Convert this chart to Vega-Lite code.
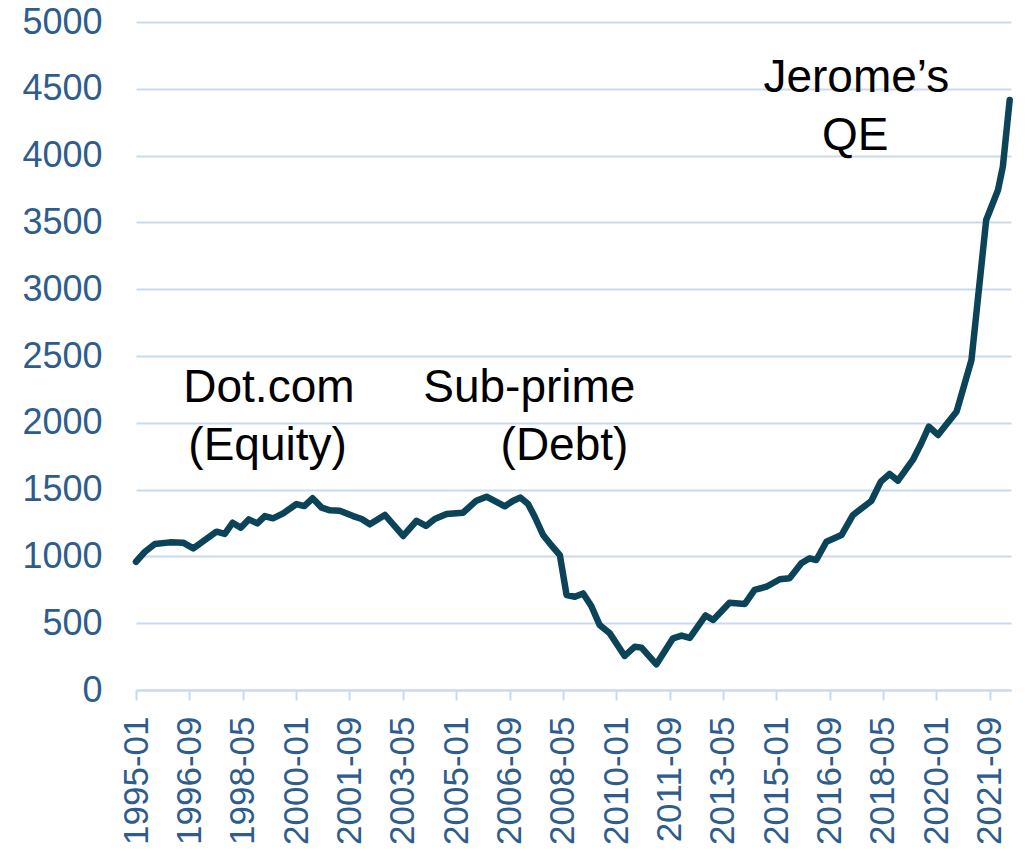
{
  "$schema": "https://vega.github.io/schema/vega-lite/v6.json",
  "width": 875,
  "height": 668,
  "autosize": {"type": "none"},
  "padding": {"left": 136, "top": 22, "right": 14, "bottom": 161},
  "background": "white",
  "config": {"view": {"stroke": null}, "font": "Liberation Sans"},
  "datasets": {
    "series": [
      {"date": "1995-01-01", "value": 960},
      {"date": "1995-04-13", "value": 1035},
      {"date": "1995-08-04", "value": 1093},
      {"date": "1996-01-22", "value": 1105},
      {"date": "1996-06-22", "value": 1103},
      {"date": "1996-10-16", "value": 1060},
      {"date": "1997-07-07", "value": 1185},
      {"date": "1997-10-10", "value": 1168},
      {"date": "1998-01-07", "value": 1252},
      {"date": "1998-04-10", "value": 1215},
      {"date": "1998-07-10", "value": 1277},
      {"date": "1998-10-16", "value": 1247},
      {"date": "1999-01-10", "value": 1302},
      {"date": "1999-04-13", "value": 1285},
      {"date": "1999-08-07", "value": 1322},
      {"date": "2000-01-07", "value": 1392},
      {"date": "2000-04-04", "value": 1377},
      {"date": "2000-07-07", "value": 1435},
      {"date": "2000-10-19", "value": 1365},
      {"date": "2001-01-22", "value": 1345},
      {"date": "2001-05-13", "value": 1342},
      {"date": "2001-10-13", "value": 1302},
      {"date": "2002-01-19", "value": 1280},
      {"date": "2002-04-22", "value": 1240},
      {"date": "2002-10-10", "value": 1310},
      {"date": "2003-05-07", "value": 1153},
      {"date": "2003-10-07", "value": 1267},
      {"date": "2004-01-22", "value": 1228},
      {"date": "2004-05-01", "value": 1280},
      {"date": "2004-09-13", "value": 1317},
      {"date": "2005-03-19", "value": 1327},
      {"date": "2005-08-19", "value": 1417},
      {"date": "2005-12-13", "value": 1447},
      {"date": "2006-07-10", "value": 1375},
      {"date": "2006-10-13", "value": 1417},
      {"date": "2007-01-04", "value": 1440},
      {"date": "2007-04-01", "value": 1392},
      {"date": "2007-06-16", "value": 1297},
      {"date": "2007-09-19", "value": 1160},
      {"date": "2007-12-04", "value": 1098},
      {"date": "2008-03-28", "value": 1010},
      {"date": "2008-06-13", "value": 711},
      {"date": "2008-09-16", "value": 698},
      {"date": "2008-12-19", "value": 723},
      {"date": "2009-03-22", "value": 629},
      {"date": "2009-06-25", "value": 487},
      {"date": "2009-10-19", "value": 424},
      {"date": "2010-04-07", "value": 255},
      {"date": "2010-08-01", "value": 324},
      {"date": "2010-10-16", "value": 317},
      {"date": "2011-04-04", "value": 192},
      {"date": "2011-10-10", "value": 387},
      {"date": "2012-01-16", "value": 407},
      {"date": "2012-04-19", "value": 390},
      {"date": "2012-10-16", "value": 558},
      {"date": "2013-01-10", "value": 524},
      {"date": "2013-07-16", "value": 653},
      {"date": "2014-01-07", "value": 644},
      {"date": "2014-04-28", "value": 749},
      {"date": "2014-09-10", "value": 773},
      {"date": "2015-02-10", "value": 829},
      {"date": "2015-06-01", "value": 836},
      {"date": "2015-10-13", "value": 948},
      {"date": "2016-01-16", "value": 986},
      {"date": "2016-04-01", "value": 973},
      {"date": "2016-07-25", "value": 1110},
      {"date": "2017-01-13", "value": 1160},
      {"date": "2017-05-25", "value": 1310},
      {"date": "2017-12-19", "value": 1415},
      {"date": "2018-04-07", "value": 1560},
      {"date": "2018-07-16", "value": 1617},
      {"date": "2018-10-19", "value": 1567},
      {"date": "2019-04-07", "value": 1722},
      {"date": "2019-07-13", "value": 1847},
      {"date": "2019-10-07", "value": 1971},
      {"date": "2020-01-19", "value": 1909},
      {"date": "2020-08-19", "value": 2085},
      {"date": "2021-02-04", "value": 2470},
      {"date": "2021-07-22", "value": 3518},
      {"date": "2021-12-04", "value": 3743},
      {"date": "2022-01-28", "value": 3917},
      {"date": "2022-04-16", "value": 4416}
    ],
    "notes": [
      {"date": "1999-02-25", "value": 2156, "label": "Dot.com"},
      {"date": "1999-02-10", "value": 1722, "label": "(Equity)"},
      {"date": "2007-04-15", "value": 2156, "label": "Sub-prime"},
      {"date": "2008-05-20", "value": 1722, "label": "(Debt)"},
      {"date": "2017-07-01", "value": 4478, "label": "Jerome’s"},
      {"date": "2017-06-19", "value": 4042, "label": "QE"}
    ]
  },
  "encoding": {
    "x": {
      "field": "date",
      "type": "temporal",
      "scale": {
        "type": "utc",
        "domain": [
          {"year": 1995, "month": 1, "date": 1, "utc": true},
          {"year": 2022, "month": 5, "date": 1, "utc": true}
        ]
      },
      "axis": {
        "title": null,
        "labelExpr": "utcFormat(datum.value, '%Y-%m')",
        "values": [
          {"year": 1995, "month": 1, "date": 1, "utc": true},
          {"year": 1996, "month": 9, "date": 1, "utc": true},
          {"year": 1998, "month": 5, "date": 1, "utc": true},
          {"year": 2000, "month": 1, "date": 1, "utc": true},
          {"year": 2001, "month": 9, "date": 1, "utc": true},
          {"year": 2003, "month": 5, "date": 1, "utc": true},
          {"year": 2005, "month": 1, "date": 1, "utc": true},
          {"year": 2006, "month": 9, "date": 1, "utc": true},
          {"year": 2008, "month": 5, "date": 1, "utc": true},
          {"year": 2010, "month": 1, "date": 1, "utc": true},
          {"year": 2011, "month": 9, "date": 1, "utc": true},
          {"year": 2013, "month": 5, "date": 1, "utc": true},
          {"year": 2015, "month": 1, "date": 1, "utc": true},
          {"year": 2016, "month": 9, "date": 1, "utc": true},
          {"year": 2018, "month": 5, "date": 1, "utc": true},
          {"year": 2020, "month": 1, "date": 1, "utc": true},
          {"year": 2021, "month": 9, "date": 1, "utc": true}
        ],
        "labelAngle": -90,
        "labelFontSize": 35,
        "labelColor": "#2E5D8D",
        "labelPadding": 16,
        "labelOverlap": false,
        "labelFlush": false,
        "tickSize": 10,
        "tickWidth": 2,
        "tickColor": "#C9DAEE",
        "domainColor": "#C9DAEE",
        "domainWidth": 2,
        "grid": false
      }
    },
    "y": {
      "field": "value",
      "type": "quantitative",
      "scale": {"domain": [0, 5000], "nice": false, "zero": true},
      "axis": {
        "title": null,
        "format": "d",
        "values": [0, 500, 1000, 1500, 2000, 2500, 3000, 3500, 4000, 4500, 5000],
        "labelFontSize": 36,
        "labelColor": "#2E5D8D",
        "labelPadding": 34,
        "tickSize": 0,
        "domain": false,
        "grid": true,
        "gridColor": "#C9DAEE",
        "gridWidth": 2
      }
    }
  },
  "layer": [
    {
      "data": {"name": "series"},
      "mark": {"type": "line", "color": "#0B4358", "strokeWidth": 6.5, "strokeJoin": "round", "strokeCap": "round"}
    },
    {
      "data": {"name": "notes"},
      "mark": {"type": "text", "fontSize": 46, "color": "#000000", "align": "center", "baseline": "alphabetic", "font": "Liberation Sans"},
      "encoding": {"text": {"field": "label", "type": "nominal"}}
    }
  ]
}
